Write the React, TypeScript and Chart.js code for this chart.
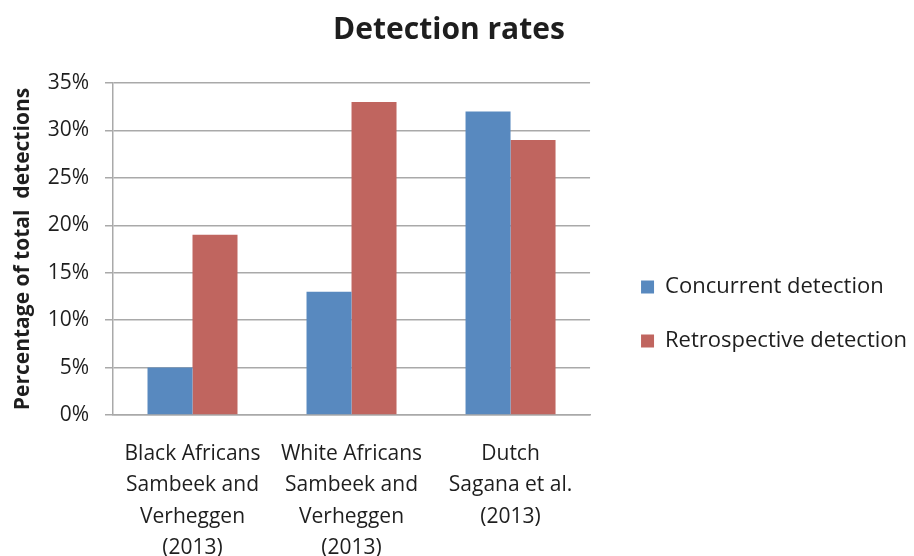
import React, { useEffect, useRef } from "react";
import { Chart, registerables } from "chart.js";

Chart.register(...registerables);

const categories: string[][] = [
  ["Black Africans", "Sambeek and", "Verheggen", "(2013)"],
  ["White Africans", "Sambeek and", "Verheggen", "(2013)"],
  ["Dutch", "Sagana et al.", "(2013)"],
];
const concurrentDetection: number[] = [5, 13, 32];
const retrospectiveDetection: number[] = [19, 33, 29];
const seriesNames: string[] = ["Concurrent detection", "Retrospective detection"];
const chartTitle = "Detection rates";
const yAxisTitle = "Percentage of total  detections";

const FONT = "'Open Sans', Lato, sans-serif";
const BLUE = "#5889BF";
const RED = "#C0655F";
const GRID = "#A9A9A9";
const TEXT = "#1e1e1e";

const legendShift = {
  id: "legendShift",
  afterLayout(chart: any) {
    const lg = chart.legend;
    if (lg) {
      lg.left += 19;
      lg.right += 19;
      lg.top += 30;
      lg.bottom += 30;
    }
  },
};

export default function App() {
  const ref = useRef<HTMLCanvasElement | null>(null);
  useEffect(() => {
    const prevMargin = document.body.style.margin;
    document.body.style.margin = "0";
    const ctx = ref.current!;
    const chart = new Chart(ctx, {
      type: "bar",
      data: {
        labels: categories,
        datasets: [
          {
            label: seriesNames[0],
            data: concurrentDetection,
            backgroundColor: BLUE,
            borderWidth: 0,
            categoryPercentage: 0.566,
            barPercentage: 1,
          },
          {
            label: seriesNames[1],
            data: retrospectiveDetection,
            backgroundColor: RED,
            borderWidth: 0,
            categoryPercentage: 0.566,
            barPercentage: 1,
          },
        ],
      },
      plugins: [legendShift],
      options: {
        responsive: false,
        animation: false,
        layout: { padding: { top: 12, right: 16, bottom: 0, left: 0 } },
        plugins: {
          title: {
            display: true,
            text: chartTitle,
            color: TEXT,
            font: { family: FONT, size: 30, weight: "bold", lineHeight: 1.2 },
            padding: { top: 0, bottom: 35 },
          },
          legend: {
            position: "right",
            maxWidth: 400,
            labels: {
              color: TEXT,
              font: { family: FONT, size: 22 },
              boxWidth: 13,
              boxHeight: 13,
              padding: 32,
            },
          },
          tooltip: { enabled: false },
        },
        scales: {
          x: {
            grid: { display: false, drawTicks: false },
            border: { display: true, color: GRID, width: 1.5 },
            ticks: {
              color: TEXT,
              font: { family: FONT, size: 21, lineHeight: 1.5 },
              padding: 23,
              maxRotation: 0,
              autoSkip: false,
            },
            afterFit(scale: any) {
              scale.height = 141;
            },
          },
          y: {
            min: 0,
            max: 35,
            ticks: {
              stepSize: 5,
              color: TEXT,
              font: { family: FONT, size: 21 },
              padding: 16,
              callback: (v: any) => `${v}%`,
            },
            grid: { color: GRID, lineWidth: 1.5, tickLength: 8 },
            border: { display: true, color: GRID, width: 1.5 },
            title: {
              display: true,
              text: yAxisTitle,
              color: TEXT,
              font: { family: FONT, size: 21, weight: "bold", lineHeight: 1.2 },
              padding: { top: 10, bottom: 0 },
            },
            afterFit(scale: any) {
              scale.width = 113;
            },
          },
        },
      },
    });
    return () => {
      chart.destroy();
      document.body.style.margin = prevMargin;
    };
  }, []);
  return (
    <div style={{ position: "absolute", left: 0, top: 0, width: 914, height: 556, background: "#fff" }}>
      <canvas ref={ref} width={914} height={556} style={{ display: "block" }} />
    </div>
  );
}
